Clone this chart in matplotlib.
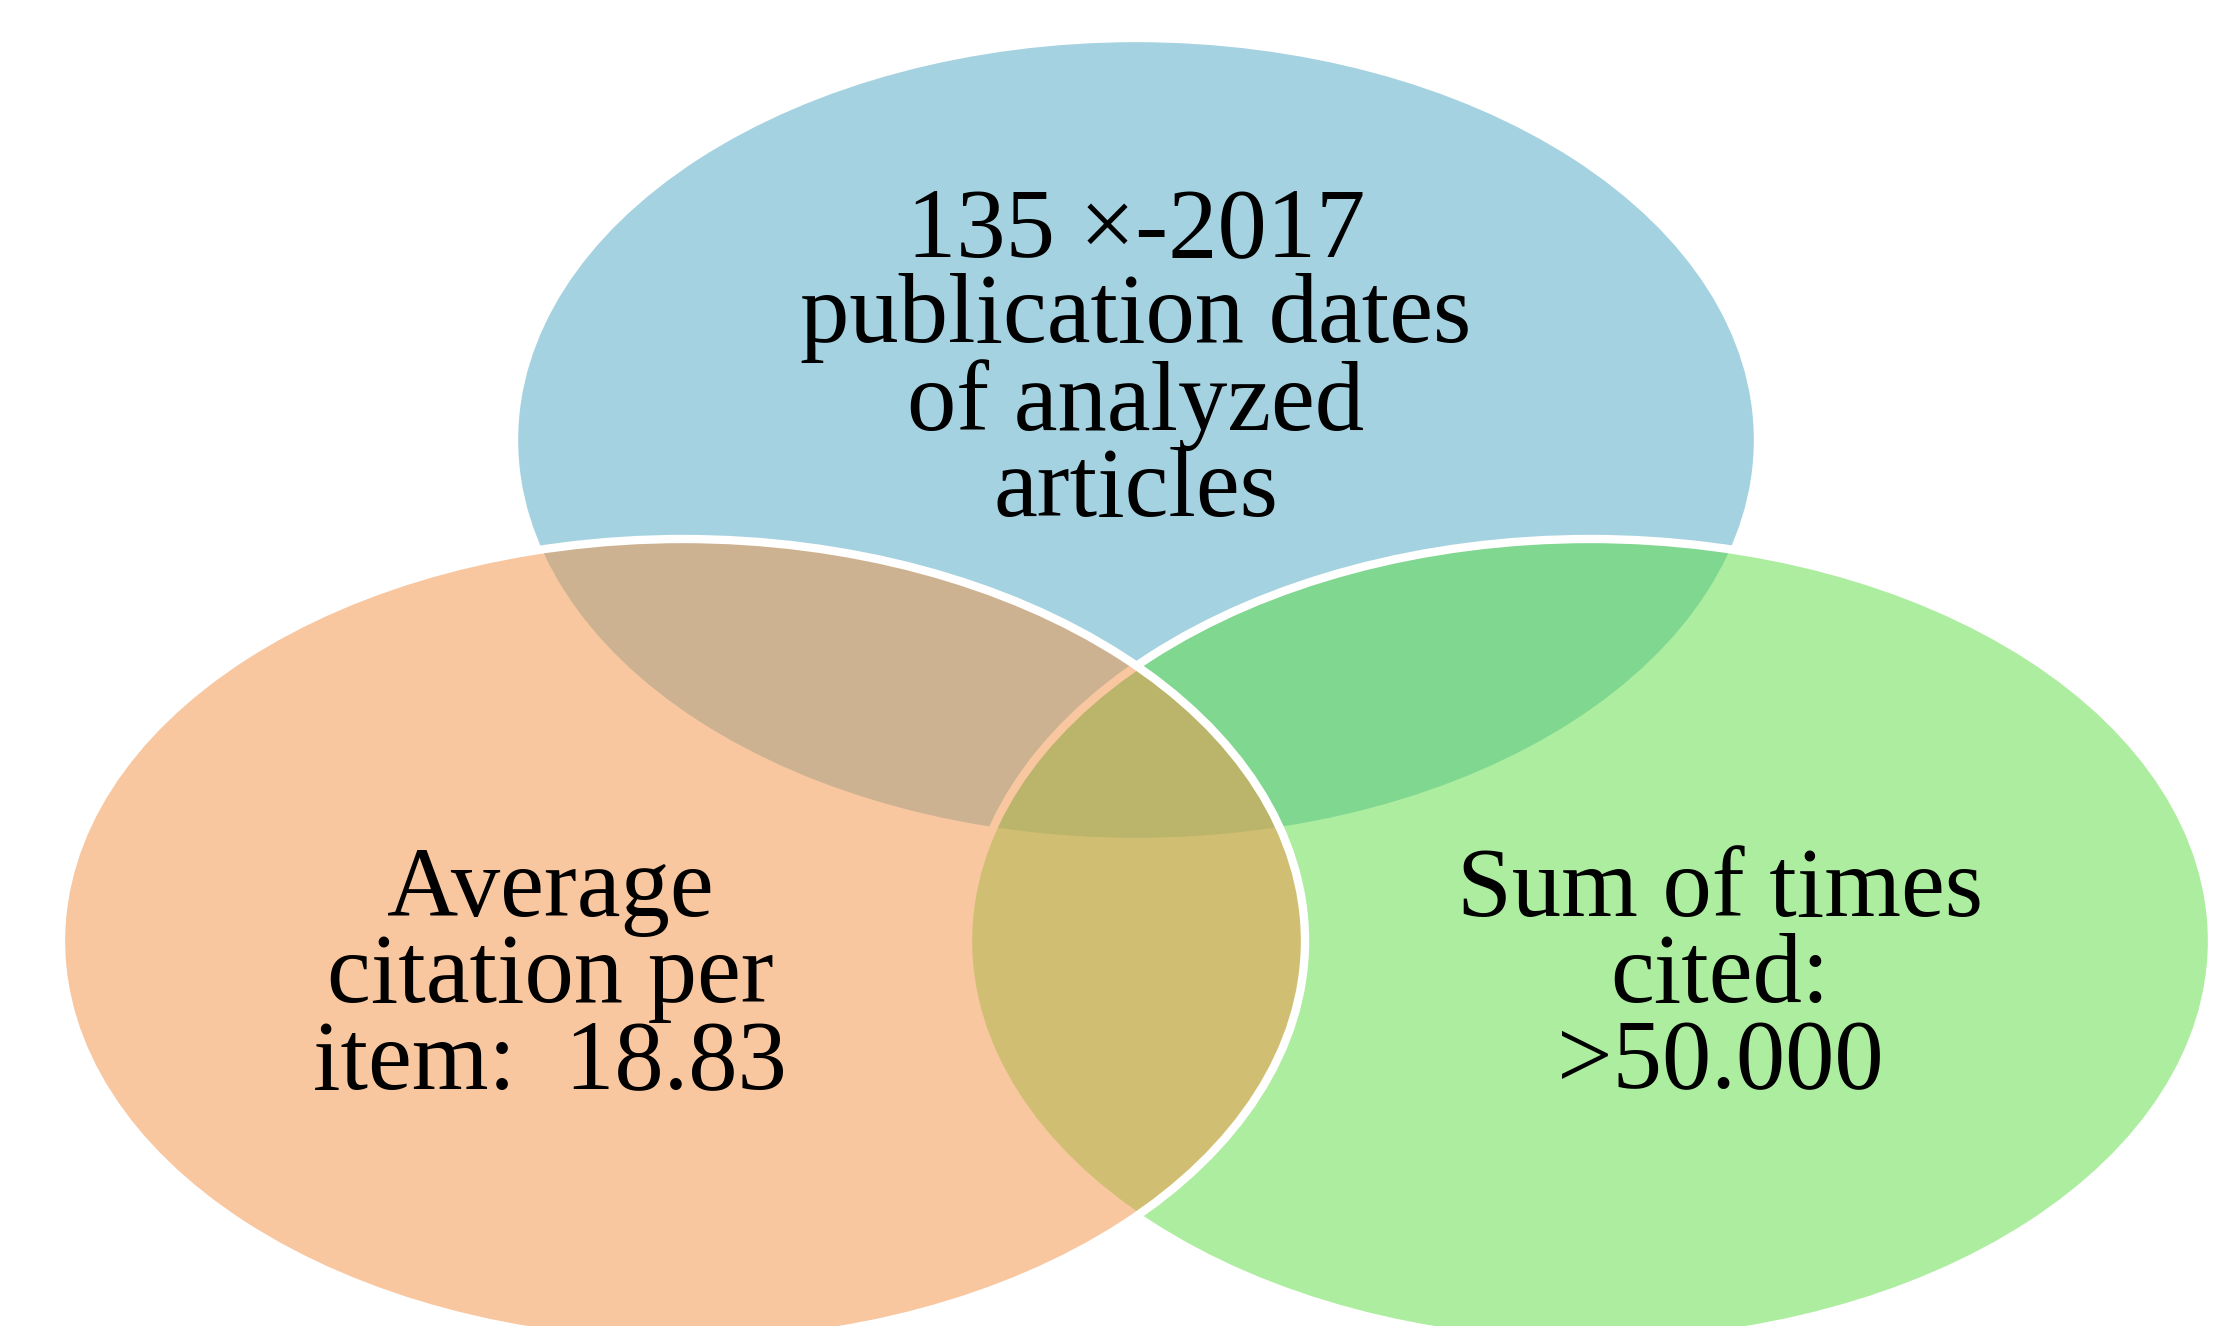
import matplotlib.pyplot as plt
from matplotlib.patches import Ellipse

# three sets, drawn in this order (blue first, orange on top)
labels = [
    "135 ×-2017\npublication dates\nof analyzed\narticles",
    "Sum of times\ncited:\n>50.000",
    "Average\ncitation per\nitem:  18.83",
]
fill_colors = ["#A5D2E0", "#5DDD41", "#F2954A"]
fill_alpha = [1.0, 0.5, 0.52]

# layout in pixels (centre x, centre y, label x, label y)
centers = [(1136, 440), (1590, 941), (683, 941)]
label_pos = [(1136, 362), (1720, 978), (550, 978)]
half_w, half_h = 622, 402

fig = plt.figure(figsize=(22.38, 13.26), dpi=100)
ax = fig.add_axes([0, 0, 1, 1])
ax.set_xlim(0, 2238)
ax.set_ylim(1326, 0)
ax.axis("off")

for (cx, cy), col, al in zip(centers, fill_colors, fill_alpha):
    face = plt.matplotlib.colors.to_rgba(col, al)
    ax.add_patch(Ellipse((cx, cy), 2 * half_w, 2 * half_h, facecolor=face,
                         edgecolor="white", linewidth=6))

for txt, (tx, ty) in zip(labels, label_pos):
    ax.text(tx, ty, txt, ha="center", va="center", fontsize=71,
            family="Liberation Serif", color="black", linespacing=0.94)

fig.savefig("out.png", dpi=100, facecolor="white")
